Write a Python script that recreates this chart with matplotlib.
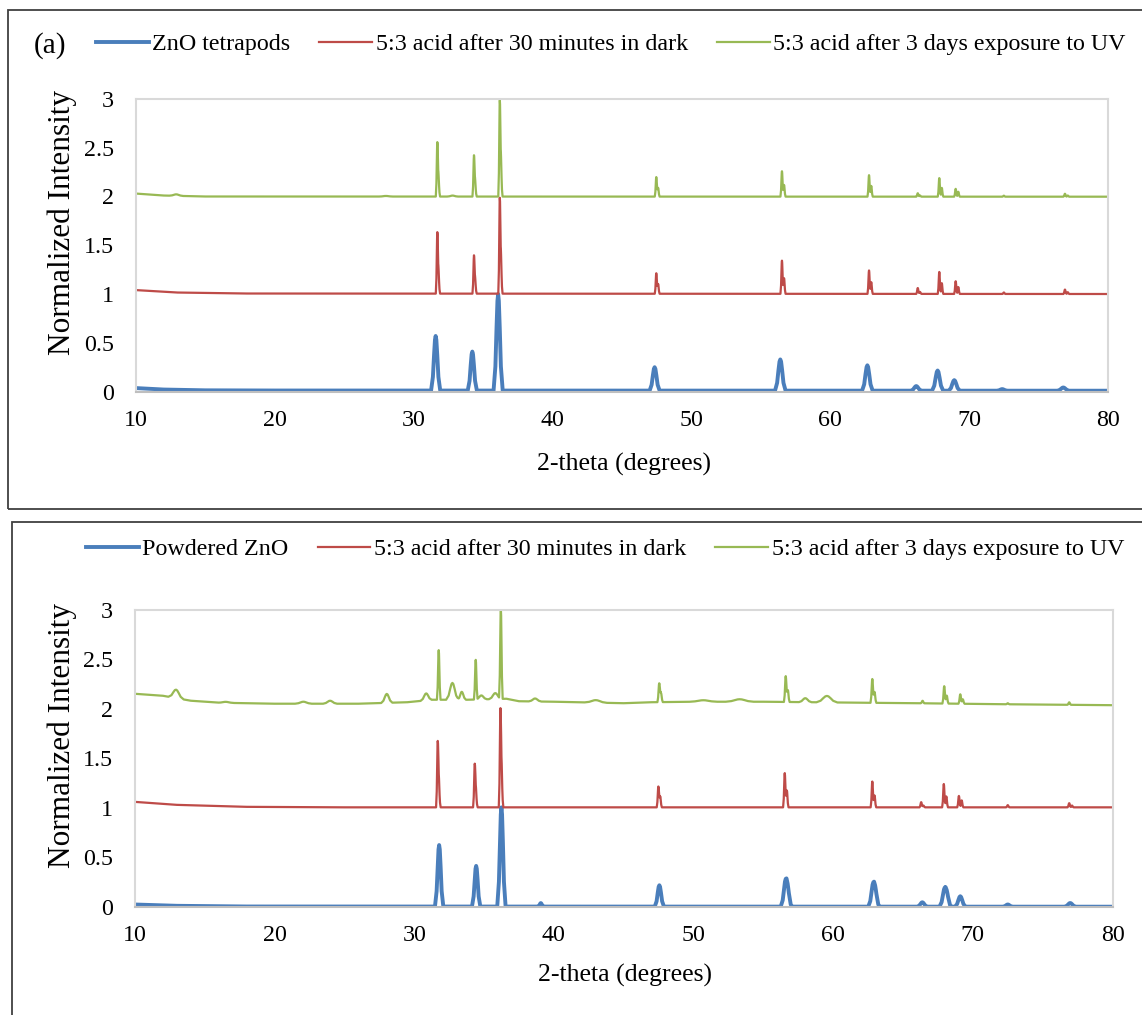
import matplotlib.pyplot as plt
import numpy as np
from matplotlib.patches import Rectangle

plt.rcParams['font.family'] = ['Liberation Serif', 'DejaVu Serif']

BLUE = '#4a7ebb'
RED = '#be4b48'
GREEN = '#98b954'

W, H = 1142, 1015

# ---------- top panel: tetrapods ----------
# background (x, y) and peaks (centre, height above background, half width)
tet_bx = [10, 12, 15, 20, 80]
tet_by = [0.035, 0.02, 0.012, 0.01, 0.008]
tet_px = [31.58, 34.22, 36.08, 47.35, 56.40, 62.67, 66.19, 67.73, 68.93, 72.38, 76.78]
tet_ph = [0.56, 0.40, 0.99, 0.24, 0.32, 0.26, 0.047, 0.207, 0.108, 0.016, 0.033]
tet_pw = [0.33, 0.33, 0.33, 0.36, 0.38, 0.38, 0.38, 0.4, 0.4, 0.38, 0.42]

dark_a_bx = [10, 13, 18, 80]
dark_a_by = [1.04, 1.015, 1.005, 1.0]
dark_a_px = [31.70, 31.79, 34.34, 34.43, 36.20, 36.29, 47.47, 47.60, 56.52, 56.67,
             62.79, 62.95, 66.30, 66.46, 67.85, 68.03, 69.03, 69.22, 72.50, 76.90, 77.10]
dark_a_ph = [0.61, 0.18, 0.38, 0.115, 0.95, 0.29, 0.21, 0.10, 0.34, 0.16,
             0.24, 0.12, 0.06, 0.02, 0.225, 0.11, 0.13, 0.07, 0.015, 0.045, 0.018]

uv_a_bx = [10, 12, 15, 80]
uv_a_by = [2.03, 2.01, 2.0, 1.998]
uv_a_px = [12.9, 28.0, 32.8,
           31.70, 31.79, 34.34, 34.43, 36.20, 36.29, 47.47, 47.60, 56.52, 56.67,
           62.79, 62.95, 66.30, 66.46, 67.85, 68.03, 69.03, 69.22, 72.50, 76.90, 77.10]
uv_a_ph = [0.015, 0.006, 0.01,
           0.54, 0.16, 0.41, 0.12, 0.955, 0.29, 0.20, 0.09, 0.26, 0.12,
           0.22, 0.11, 0.035, 0.012, 0.19, 0.09, 0.08, 0.05, 0.01, 0.03, 0.012]
uv_a_pw = [0.5, 0.5, 0.4] + [0.11] * 21

# ---------- bottom panel: powder ----------
pow_bx = [10, 13, 18, 80]
pow_by = [0.025, 0.012, 0.005, 0.003]
pow_px = [31.78, 34.43, 36.24, 39.06, 47.55, 56.60, 56.78, 62.87, 63.05,
          66.38, 67.99, 68.18, 69.10, 72.50, 76.97]
pow_ph = [0.62, 0.41, 1.0, 0.035, 0.215, 0.26, 0.08, 0.225, 0.08,
          0.044, 0.18, 0.06, 0.105, 0.022, 0.037]
pow_pw = [0.3, 0.3, 0.3, 0.2, 0.33, 0.36, 0.3, 0.36, 0.3,
          0.36, 0.38, 0.3, 0.38, 0.35, 0.4]

dark_b_bx = [10, 13, 18, 25, 80]
dark_b_by = [1.06, 1.03, 1.01, 1.005, 1.005]
dark_b_px = [31.68, 31.77, 34.33, 34.42, 36.17, 36.26, 47.48, 47.61, 56.53, 56.68,
             62.80, 62.96, 66.30, 66.46, 67.92, 68.10, 69.00, 69.20, 72.50, 76.90, 77.10]
dark_b_ph = [0.64, 0.19, 0.42, 0.13, 0.955, 0.29, 0.21, 0.11, 0.345, 0.17,
             0.26, 0.12, 0.052, 0.018, 0.235, 0.11, 0.115, 0.07, 0.022, 0.042, 0.018]

uv_b_bx = [10, 11, 12, 14, 16, 18, 20, 26, 29.5, 31.3, 33.8, 36.6, 37.5,
           40, 45, 47, 50, 55, 62, 66, 72, 80]
uv_b_by = [2.15, 2.14, 2.13, 2.08, 2.06, 2.055, 2.05, 2.05, 2.065, 2.09, 2.09, 2.10, 2.075,
           2.07, 2.055, 2.065, 2.07, 2.07, 2.06, 2.055, 2.045, 2.035]
uv_b_px = [12.94, 16.5, 22.06, 23.97, 28.03, 30.85, 32.73, 33.40, 34.80, 35.80,
           38.65, 43.0, 50.7, 53.3, 58.0, 59.55,
           31.75, 34.40, 36.20, 47.54, 47.67, 56.60, 56.75, 62.80, 62.96,
           66.40, 67.95, 68.13, 69.10, 69.28, 72.50, 76.90]
uv_b_ph = [0.085, 0.01, 0.02, 0.03, 0.09, 0.07, 0.17, 0.08, 0.04, 0.06,
           0.03, 0.025, 0.015, 0.025, 0.04, 0.065,
           0.50, 0.40, 0.90, 0.19, 0.09, 0.26, 0.12, 0.24, 0.11,
           0.025, 0.175, 0.08, 0.095, 0.045, 0.01, 0.025]
uv_b_pw = [0.55, 0.6, 0.6, 0.5, 0.4, 0.4, 0.45, 0.3, 0.4, 0.45,
           0.45, 0.8, 1.0, 1.0, 0.45, 0.75] + [0.13] * 16

# peak shape, as fraction of height vs. fraction of half width
SHAPE_U = [0, 0.15, 0.35, 0.6, 1]
SHAPE_V = [1, 0.93, 0.65, 0.25, 0]


def trace(bx, by, px, ph, pw):
    """Background plus bell-shaped peaks, drawn through shape vertices."""
    px = np.asarray(px, float)
    ph = np.asarray(ph, float)
    pw = np.broadcast_to(np.asarray(pw, float), px.shape)
    u = np.asarray(SHAPE_U)
    offs = np.concatenate([-u[::-1], u[1:]])
    xs = np.concatenate([np.asarray(bx, float)] + [c + offs * w for c, w in zip(px, pw)])
    xs = np.unique(np.clip(xs, 10, 80))
    ys = np.interp(xs, bx, by)
    for c, h, w in zip(px, ph, pw):
        ys = ys + h * np.interp(np.abs(xs - c) / w, SHAPE_U, SHAPE_V, right=0)
    return xs, ys


def setup_axes(ax):
    ax.set_xlim(10, 80)
    ax.set_ylim(0, 3)
    ax.set_xticks(np.arange(10, 81, 10))
    ax.set_yticks(np.arange(0, 3.01, 0.5))
    ax.set_yticklabels(['0', '0.5', '1', '1.5', '2', '2.5', '3'])
    ax.tick_params(length=0, labelsize=17.3, pad=16)
    ax.tick_params(axis='x', pad=13)
    for s in ax.spines.values():
        s.set_color('#d9d9d9')
        s.set_linewidth(1.5)
    ax.spines['bottom'].set_color('#bfbfbf')


def axes_px(left, right, top, bottom):
    return fig.add_axes([left / W, 1 - bottom / H, (right - left) / W, (bottom - top) / H])


def px_text(x, y, s, **kw):
    fig.text(x / W, 1 - y / H, s, ha='center', va='center', **kw)


fig = plt.figure(figsize=(W / 100, H / 100), dpi=100)

# outer frames
fig.patches.append(Rectangle((8 / W, 1 - 509 / H), 1.2, 499 / H, transform=fig.transFigure,
                             fill=False, edgecolor='#404040', linewidth=1.3))
fig.patches.append(Rectangle((12 / W, -0.05), 1.2, 1 - 522 / H + 0.05, transform=fig.transFigure,
                             fill=False, edgecolor='#404040', linewidth=1.3))

leg_kw = dict(loc='center', ncol=3, frameon=False, fontsize=17.3, handlelength=2.2,
              handletextpad=0.15, columnspacing=1.2)

# top panel
ax1 = axes_px(136, 1108, 99, 391.5)
l1, = ax1.plot(*trace(tet_bx, tet_by, tet_px, tet_ph, tet_pw), color=BLUE, lw=2.8,
               solid_joinstyle='round', label='ZnO tetrapods')
l2, = ax1.plot(*trace(dark_a_bx, dark_a_by, dark_a_px, dark_a_ph, 0.11), color=RED, lw=1.6,
               solid_joinstyle='round', label='5:3 acid after 30 minutes in dark')
l3, = ax1.plot(*trace(uv_a_bx, uv_a_by, uv_a_px, uv_a_ph, uv_a_pw), color=GREEN, lw=1.6,
               solid_joinstyle='round', label='5:3 acid after 3 days exposure to UV')
setup_axes(ax1)
fig.legend(handles=[l1, l2, l3], bbox_to_anchor=(611 / W, 1 - 44 / H), **leg_kw)
px_text(50, 46, '(a)', fontsize=21)
px_text(624, 464, '2-theta (degrees)', fontsize=18.5)
px_text(62, 223, 'Normalized Intensity', fontsize=22.5, rotation=90)

# bottom panel
ax2 = axes_px(135, 1112.5, 609.5, 907)
m1, = ax2.plot(*trace(pow_bx, pow_by, pow_px, pow_ph, pow_pw), color=BLUE, lw=2.8,
               solid_joinstyle='round', label='Powdered ZnO')
m2, = ax2.plot(*trace(dark_b_bx, dark_b_by, dark_b_px, dark_b_ph, 0.12), color=RED, lw=1.6,
               solid_joinstyle='round', label='5:3 acid after 30 minutes in dark')
m3, = ax2.plot(*trace(uv_b_bx, uv_b_by, uv_b_px, uv_b_ph, uv_b_pw), color=GREEN, lw=1.6,
               solid_joinstyle='round', label='5:3 acid after 3 days exposure to UV')
setup_axes(ax2)
fig.legend(handles=[m1, m2, m3], bbox_to_anchor=(605 / W, 1 - 549 / H), **leg_kw)
px_text(625, 975, '2-theta (degrees)', fontsize=18.5)
px_text(62, 735, 'Normalized Intensity', fontsize=22.5, rotation=90)

fig.savefig('out.png', dpi=100)
